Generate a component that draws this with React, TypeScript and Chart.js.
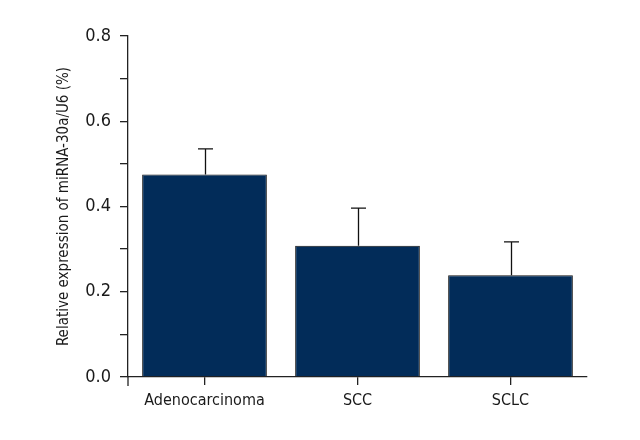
import React, { useEffect, useRef } from "react";
import { Chart, registerables } from "chart.js";

Chart.register(...registerables);

const categories = ["Adenocarcinoma", "SCC", "SCLC"];
const means = [0.475, 0.308, 0.239];
const upperErrors = [0.06, 0.088, 0.078];
const yMin = 0;
const yMax = 0.8;
const yStep = 0.1;
const yTitle = "Relative expression of miRNA-30a/U6 (%)";

const FONT = "'DejaVu Sans Condensed', 'Liberation Sans Narrow', sans-serif";
const AXIS_COLOR = "#222222";

const errorBarPlugin = {
  id: "errorBars",
  afterDatasetsDraw(chart: any) {
    const ctx = chart.ctx;
    const meta = chart.getDatasetMeta(0);
    const y = chart.scales.y;
    ctx.save();
    ctx.strokeStyle = "#111111";
    ctx.lineWidth = 1.3;
    meta.data.forEach((bar: any, i: number) => {
      const x = Math.round(bar.x) + 0.5;
      const top = y.getPixelForValue(means[i] + upperErrors[i]);
      const base = y.getPixelForValue(means[i]);
      ctx.beginPath();
      ctx.moveTo(x, base);
      ctx.lineTo(x, top);
      ctx.moveTo(x - 7.5, top);
      ctx.lineTo(x + 7.5, top);
      ctx.stroke();
    });
    // y-axis line extends slightly below x-axis
    const area = chart.chartArea;
    ctx.strokeStyle = AXIS_COLOR;
    ctx.lineWidth = 1.3;
    ctx.beginPath();
    ctx.moveTo(area.left, area.bottom);
    ctx.lineTo(area.left, area.bottom + 9);
    ctx.stroke();
    ctx.restore();
  },
};

export default function App() {
  const ref = useRef<HTMLCanvasElement | null>(null);
  useEffect(() => {
    if (!ref.current) return;
    const chart = new Chart(ref.current, {
      type: "bar",
      data: {
        labels: categories,
        datasets: [
          {
            data: means,
            backgroundColor: "#022c59",
            borderColor: "#111111",
            borderWidth: 1,
            barPercentage: 0.815,
            categoryPercentage: 1,
          },
        ],
      },
      options: {
        animation: false,
        responsive: false,
        devicePixelRatio: 1,
        layout: { padding: { top: 36, right: 53, left: 0, bottom: 0 } },
        plugins: {
          legend: { display: false },
          tooltip: { enabled: false },
        },
        scales: {
          x: {
            offset: true,
            grid: {
              offset: false,
              drawOnChartArea: false,
              drawTicks: true,
              tickLength: 8,
              color: AXIS_COLOR,
              lineWidth: 1.3,
            },
            border: { display: true, color: AXIS_COLOR, width: 1.3 },
            ticks: {
              color: "#1a1a1a",
              font: { family: FONT, size: 16 },
              padding: 6,
              maxRotation: 0,
            },
            afterFit(scale: any) {
              scale.height = 63;
            },
          },
          y: {
            min: yMin,
            max: yMax,
            grid: {
              drawOnChartArea: false,
              drawTicks: true,
              tickLength: 8,
              color: AXIS_COLOR,
              lineWidth: 1.3,
            },
            border: { display: true, color: AXIS_COLOR, width: 1.3 },
            ticks: {
              stepSize: yStep,
              color: "#1a1a1a",
              font: { family: FONT, size: 18 },
              padding: 9,
              callback: (value: any, index: number) =>
                index % 2 === 0 ? Number(value).toFixed(1) : "",
            },
            title: {
              display: true,
              text: yTitle,
              color: "#1a1a1a",
              font: { family: FONT, size: 15 },
              padding: { top: 55, bottom: 0 },
            },
            afterFit(scale: any) {
              scale.width = 128;
            },
          },
        },
      },
      plugins: [errorBarPlugin],
    });
    return () => chart.destroy();
  }, []);
  return (
    <div style={{ position: "absolute", left: 0, top: 0, width: 640, height: 440, background: "#fff" }}>
      <canvas ref={ref} width={640} height={440} />
    </div>
  );
}
